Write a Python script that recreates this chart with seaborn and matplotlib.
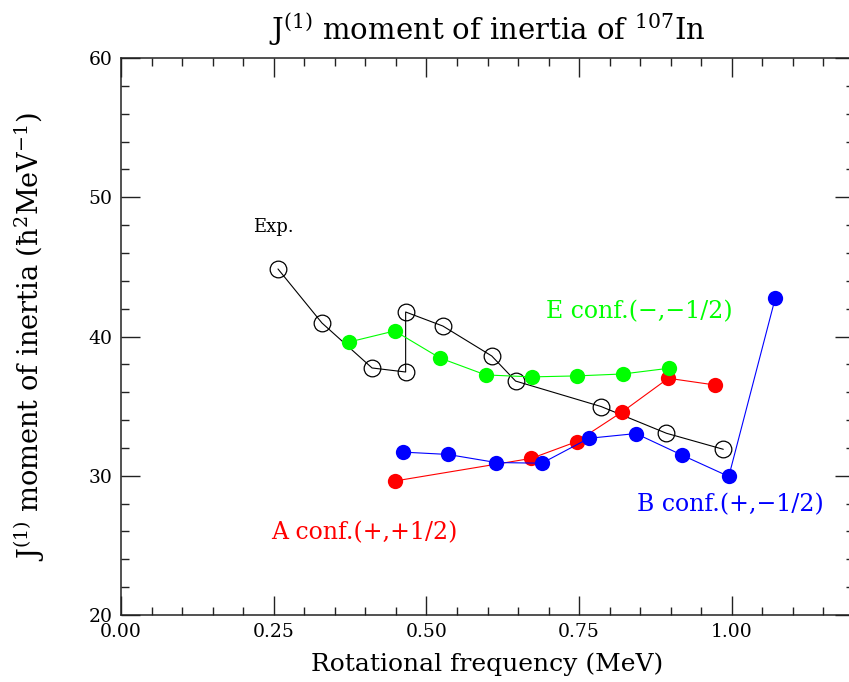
import matplotlib
matplotlib.use("Agg")
import matplotlib.pyplot as plt
import seaborn as sns
import pandas as pd
from matplotlib.ticker import MultipleLocator, FormatStrFormatter

# ---- data ----
exp_x = [0.257, 0.329, 0.411, 0.466, 0.466, 0.527, 0.607, 0.646, 0.786, 0.893, 0.986]
exp_y = [44.85, 40.97, 37.74, 37.45, 41.76, 40.75, 38.60, 36.80, 34.97, 33.05, 31.90]

a_x = [0.448, 0.672, 0.746, 0.821, 0.896, 0.972]
a_y = [29.62, 31.25, 32.45, 34.60, 37.00, 36.52]

b_x = [0.461, 0.535, 0.614, 0.689, 0.766, 0.843, 0.918, 0.995, 1.071]
b_y = [31.70, 31.53, 30.95, 30.90, 32.69, 33.03, 31.49, 29.95, 42.74]

e_x = [0.373, 0.448, 0.522, 0.597, 0.673, 0.746, 0.822, 0.897]
e_y = [39.60, 40.40, 38.46, 37.24, 37.10, 37.17, 37.31, 37.72]

title = r"J$^{(1)}$ moment of inertia of $^{107}$In"
xlabel = "Rotational frequency (MeV)"
ylabel = r"J$^{(1)}$ moment of inertia (ħ$^{2}$MeV$^{-1}$)"
lab_exp = "Exp."
lab_a = "A conf.(+,+1/2)"
lab_b = "B conf.(+,\u22121/2)"
lab_e = "E conf.(\u2212,\u22121/2)"

sns.set_theme(style="white")
plt.rcParams["font.family"] = ["DejaVu Serif"]
plt.rcParams["mathtext.fontset"] = "dejavuserif"

fig = plt.figure(figsize=(8.49, 6.82), dpi=100)
ax = fig.add_axes([121 / 849, 67 / 682, 733 / 849, 557 / 682])

ms = 11.0
lw = 0.8

df_exp = pd.DataFrame({"x": exp_x, "y": exp_y})
sns.lineplot(data=df_exp, x="x", y="y", sort=False, estimator=None, ax=ax,
             color="black", lw=lw, marker="o", markersize=ms + 1,
             markerfacecolor="none", markeredgecolor="black", markeredgewidth=0.9)

for xs, ys, col in [(a_x, a_y, "#ff0000"), (b_x, b_y, "#0000ff"), (e_x, e_y, "#00ff00")]:
    d = pd.DataFrame({"x": xs, "y": ys})
    sns.lineplot(data=d, x="x", y="y", sort=False, estimator=None, ax=ax,
                 color=col, lw=lw, marker="o", markersize=ms,
                 markerfacecolor=col, markeredgecolor=col, markeredgewidth=0)

ax.set_xlim(0, 1.2)
ax.set_ylim(20, 60)
ax.xaxis.set_major_locator(MultipleLocator(0.25))
ax.xaxis.set_minor_locator(MultipleLocator(0.05))
ax.xaxis.set_major_formatter(FormatStrFormatter("%.2f"))
ax.yaxis.set_major_locator(MultipleLocator(10))
ax.yaxis.set_minor_locator(MultipleLocator(2))
ax.tick_params(which="both", direction="in", top=True, right=True,
               bottom=True, left=True, color="#222222", labelsize=13.5,
               labelcolor="black")
ax.tick_params(which="major", length=14, width=1.0, pad=6)
ax.tick_params(which="minor", length=6, width=1.0)
for s in ax.spines.values():
    s.set_color("#222222")
    s.set_linewidth(1.1)

ax.set_xlabel(xlabel, fontsize=18, labelpad=8, color="black")
ax.set_ylabel(ylabel, fontsize=19.5, labelpad=30, color="black")
ax.set_title(title, fontsize=21, pad=13, color="black")

ax.text(0.249, 47.86, lab_exp, color="black", fontsize=13, ha="center", va="center")
ax.text(0.399, 25.9, lab_a, color="#ff0000", fontsize=17, ha="center", va="center")
ax.text(0.998, 27.9, lab_b, color="#0000ff", fontsize=17, ha="center", va="center")
ax.text(0.848, 41.76, lab_e, color="#00ff00", fontsize=17, ha="center", va="center")

fig.savefig("out.png", dpi=100)
